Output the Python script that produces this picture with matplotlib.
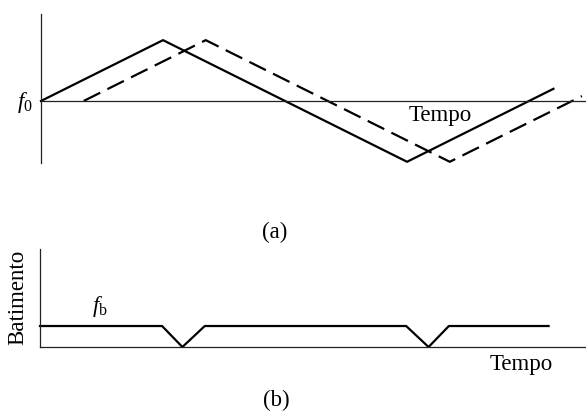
import matplotlib
matplotlib.use('Agg')
import matplotlib.pyplot as plt

plt.rcParams['font.family'] = 'Liberation Serif'
plt.rcParams['mathtext.fontset'] = 'custom'
plt.rcParams['mathtext.rm'] = 'Liberation Serif'
plt.rcParams['mathtext.it'] = 'Liberation Serif:italic'

W, H = 586, 412

# (a) transmitted (solid) and received (dashed) frequency sweeps
emit_t = [0, 3.0, 9.0, 12.6]
emit_f = [0, 1.0, -1.0, 0.2]
recv_t = [1.05, 4.05, 10.05, 13.3]
recv_f = [0, 1.0, -1.0, 0.08]

# (b) beat frequency
beat_t = [0, 3.0, 3.5, 4.05, 9.0, 9.55, 10.05, 12.5]
beat_f = [1, 1, 0, 1, 1, 0, 1, 1]


def box(x0, y0, x1, y1):
    # pixel box (from top-left) -> figure fraction rect
    return [x0 / W, 1 - y1 / H, (x1 - x0) / W, (y1 - y0) / H]


def fx(x):
    return x / W


def fy(y):
    return 1 - y / H


fig = plt.figure(figsize=(W / 100, H / 100), dpi=100)

# ---- panel (a)
ax1 = fig.add_axes(box(41, 14, 586, 163))
ax1.plot(emit_t, emit_f, color='black', lw=1.6, clip_on=False)
ax1.plot(recv_t, recv_f, color='black', lw=1.6, dashes=(8.3, 3.6), clip_on=False)
ax1.set_xlim(0, 13.4)
ax1.set_ylim(-1.02, 1.43)
ax1.spines[['top', 'right']].set_visible(False)
ax1.spines['bottom'].set_position(('data', 0))
for s in ['left', 'bottom']:
    ax1.spines[s].set_linewidth(0.9)
    ax1.spines[s].set_color('#222222')
ax1.set_xticks([])
ax1.set_yticks([])
ax1.patch.set_visible(False)

# ---- panel (b)
ax2 = fig.add_axes(box(40, 249, 586, 347))
ax2.plot(beat_t, beat_f, color='black', lw=1.6, clip_on=False)
ax2.set_xlim(0, 13.42)
ax2.set_ylim(0, 4.67)
ax2.spines[['top', 'right']].set_visible(False)
for s in ['left', 'bottom']:
    ax2.spines[s].set_linewidth(0.9)
    ax2.spines[s].set_color('#222222')
ax2.set_xticks([])
ax2.set_yticks([])
ax2.patch.set_visible(False)

fs = 16.5
fig.text(fx(33), fy(108), r'$f_0$', fontsize=fs, ha='right', va='baseline')
fig.text(fx(440), fy(121), 'Tempo', fontsize=fs, ha='center', va='baseline')
fig.text(fx(275), fy(238), '(a)', fontsize=fs, ha='center', va='baseline')

fig.text(fx(100), fy(312), r'$f_\mathrm{b}$', fontsize=fs, ha='center', va='baseline')
fig.text(fx(18), fy(297), 'Batimento', fontsize=fs, rotation=90, ha='center', va='center')
fig.text(fx(521), fy(370), 'Tempo', fontsize=fs, ha='center', va='baseline')
fig.text(fx(276), fy(406), '(b)', fontsize=fs, ha='center', va='baseline')

fig.savefig('out.png', dpi=100)
